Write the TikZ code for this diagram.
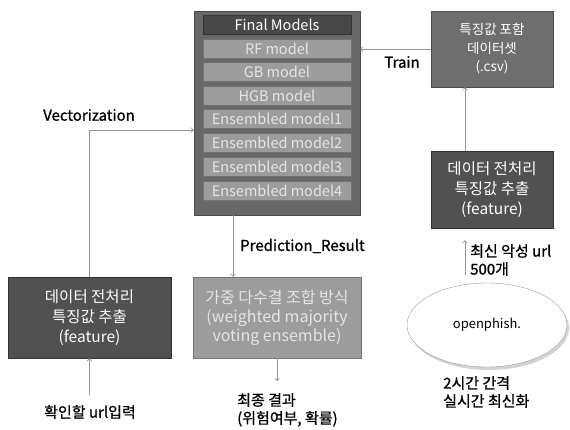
\documentclass[tikz,border=0pt]{standalone}
\usepackage{fontspec}
\setmainfont{Noto Sans CJK KR}
\newfontfamily\lblfont[FakeBold=1]{Noto Sans CJK KR}
\usetikzlibrary{shadows,shapes.geometric}
\definecolor{boxdark}{HTML}{515151}
\definecolor{boxmid}{HTML}{6E6E6E}
\definecolor{boxlight}{HTML}{9C9C9C}
\definecolor{linegray}{HTML}{959595}
\tikzset{
  darkbox/.style={draw=black!80, fill=boxdark, text=white, align=center, inner sep=0pt, font=\fontsize{15.5}{20}\selectfont},
  midbox/.style={draw=black!70, fill=boxmid, text=white, align=center, inner sep=0pt},
  modelbox/.style={draw=black!55, fill=boxlight, text=white!90!black, minimum width=148pt, minimum height=19pt, inner sep=0pt, font=\fontsize{14.5}{15}\selectfont},
  conn/.style={draw=linegray, line width=0.9pt, -to},
  lbl/.style={font=\lblfont\fontsize{15}{18}\selectfont, text=black, inner sep=0pt}
}
\begin{document}
\begin{tikzpicture}[x=1pt,y=-1pt]
\useasboundingbox (0,0) rectangle (570,429);
% Final Models
\node[midbox, fill=boxmid!95!black, minimum width=166pt, minimum height=204pt] (final) at (277,113) {};
\node[modelbox, fill=boxdark!105, draw=black!80, text=white] (fm) at (277,25) {Final Models};
\node[modelbox] (rf) at (277,49) {RF model};
\node[modelbox] (gb) at (277,72) {GB model};
\node[modelbox] (hgb) at (277,96) {HGB model};
\node[modelbox] (ens1) at (277,119) {Ensembled model1};
\node[modelbox] (ens2) at (277,143) {Ensembled model2};
\node[modelbox] (ens3) at (277,167) {Ensembled model3};
\node[modelbox] (ens4) at (277,191) {Ensembled model4};
% 오른쪽
\node[midbox, minimum width=122pt, minimum height=76pt, font=\fontsize{13.5}{18.5}\selectfont] (dataset) at (492,49) {특징값 포함\\데이터셋\\(.csv)};
\node[darkbox, minimum width=122pt, minimum height=77pt] (prepR) at (492,189.5) {데이터 전처리\\특징값 추출\\(feature)};
\node[ellipse, draw=black!40, fill=white, drop shadow={opacity=0.35, shadow xshift=2pt, shadow yshift=-3pt}, minimum width=160pt, minimum height=84pt, font=\fontsize{13}{15}\selectfont] (phish) at (487,325) {openphish.};
\node[lbl, align=left, anchor=north west] (crawl) at (470,244) {최신 악성 url\\500개};
\node[lbl, align=left, anchor=north west] (period) at (443,376) {2시간 간격\\실시간 최신화};
% 왼쪽 / 가운데
\node[darkbox, minimum width=163pt, minimum height=81pt] (prepL) at (89.5,317.5) {데이터 전처리\\특징값 추출\\(feature)};
\node[darkbox, fill=boxlight, draw=black!55, text=white!90!black, minimum width=168pt, minimum height=81pt, font=\fontsize{16}{19}\selectfont] (vote) at (277,317.5) {가중 다수결 조합 방식\\(weighted majority\\voting ensemble)};
\node[lbl] (input) at (90,412) {확인할 url입력};
\node[lbl, align=left, anchor=north west] (result) at (237,393) {최종 결과\\(위험여부, 확률)};
\node[lbl] (vec) at (89,115) {Vectorization};
\node[lbl] (train) at (402,62) {Train};
\node[lbl, anchor=west] (pred) at (240,246) {Prediction\_Result};
% 화살표
\draw[conn] (dataset.west) -- (dataset.west -| final.east);
\draw[conn] ([xshift=-27pt]prepR.north) -- ([xshift=-27pt]dataset.south);
\draw[conn, shorten >=12pt, shorten <=8pt] (phish.north -| 465,0) -- ([xshift=-27pt]prepR.south);
\draw[conn] (prepL.north) |- ([yshift=-17pt]final.west);
\draw[conn, shorten <=10pt] (input.north -| prepL.south) -- (prepL.south);
\draw[conn] ([xshift=-44pt]final.south) -- ([xshift=-44pt]final.south |- vote.north);
\draw[conn, shorten >=12pt] (vote.south) -- (vote.south |- result.north);
\end{tikzpicture}
\end{document}
